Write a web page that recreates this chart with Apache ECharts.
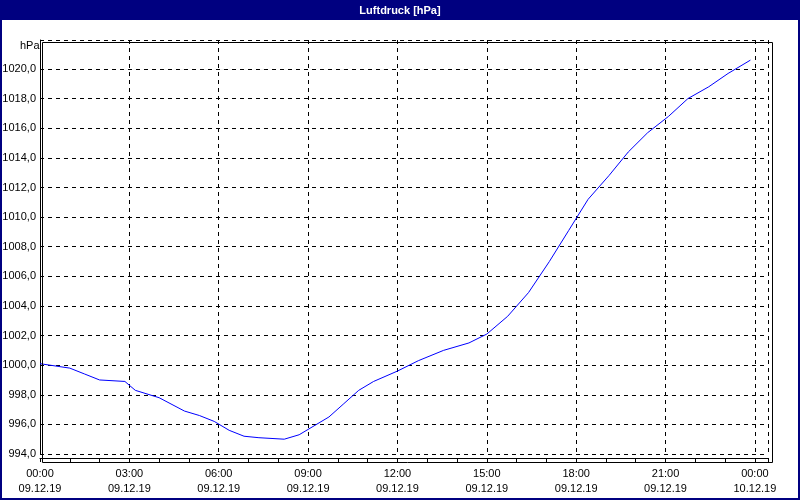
<!DOCTYPE html>
<html>
<head>
<meta charset="utf-8">
<script src="https://cdn.jsdelivr.net/npm/echarts@6/dist/echarts.min.js"></script>
<style>
html, body { margin: 0; padding: 0; background: #fff; }
#main { width: 800px; height: 500px; box-sizing: border-box; border: 2px solid #000080; }
</style>
</head>
<body>
<div id="main"></div>
<script>
// hours since 09.12.19 00:00
const hours = [0, 1.0, 1.5, 2.0, 2.85, 3.2, 4.0, 4.85, 5.35, 5.85, 6.35, 6.85, 7.35, 8.2, 8.7, 9.2, 9.7,
	10.2, 10.7, 11.2, 12.0, 12.7, 13.55, 14.4, 15.0, 15.7, 16.4, 17.1, 17.75, 18.4, 19.1, 19.75,
	20.4, 21.1, 21.75, 22.45, 23.1, 23.85];
const pressure = [1000.1, 999.8, 999.4, 999.0, 998.9, 998.3, 997.8, 996.9, 996.6, 996.2, 995.6, 995.2,
	995.1, 995.0, 995.3, 995.9, 996.5, 997.4, 998.3, 998.9, 999.6, 1000.3, 1001.0, 1001.5, 1002.1,
	1003.3, 1004.9, 1007.0, 1009.1, 1011.2, 1012.8, 1014.4, 1015.7, 1016.8, 1018.0, 1018.8, 1019.7, 1020.6];
const timeLabels = ['00:00', '03:00', '06:00', '09:00', '12:00', '15:00', '18:00', '21:00', '00:00'];
const dateLabels = ['09.12.19', '09.12.19', '09.12.19', '09.12.19', '09.12.19', '09.12.19', '09.12.19', '09.12.19', '10.12.19'];

const chart = echarts.init(document.getElementById('main'));
const font = 'Tahoma, "Liberation Sans", sans-serif';
chart.setOption({
	animation: false,
	backgroundColor: '#fff',
	graphic: [
		{ type: 'rect', left: -2, top: -2, shape: { width: 800, height: 20 }, style: { fill: '#000080' } },
		{ type: 'text', left: 'center', top: 3, style: { text: 'Luftdruck [hPa]', fill: '#fff', font: 'bold 11px ' + font } },
		{ type: 'rect', left: 38, top: 38, shape: { width: 730, height: 420 }, style: { fill: 'none', stroke: '#000', lineWidth: 1 }, z: 10 },
		{ type: 'text', left: 18, top: 38, style: { text: 'hPa', fill: '#000', font: '11px ' + font } }
	],
	grid: { left: 38, right: 30, top: 38, bottom: 44, outerBoundsMode: 'none', containLabel: false },
	xAxis: {
		type: 'value', min: 0, max: 24.44, interval: 3, offset: 4,
		axisLine: { lineStyle: { color: '#000' } },
		axisTick: { length: 4, lineStyle: { color: '#000' } },
		minorTick: { show: true, splitNumber: 3, length: 4, lineStyle: { color: '#000' } },
		splitLine: { show: true, lineStyle: { color: '#000', type: [4, 4] } },
		axisLabel: {
			color: '#000', margin: 8,
			formatter: v => {
				const i = Math.round(v / 3);
				return timeLabels[i] ? '{a|' + timeLabels[i] + '}\n{a|' + dateLabels[i] + '}' : '';
			},
			rich: { a: { fontSize: 11, fontFamily: font, lineHeight: 15, align: 'center', color: '#000' } }
		}
	},
	yAxis: {
		type: 'value', min: 994, max: 1021.96, interval: 2,
		axisLine: { show: true, lineStyle: { color: '#000' } },
		axisTick: { show: false },
		splitLine: { show: true, lineStyle: { color: '#000', type: [4, 4] } },
		axisLabel: {
			color: '#000', fontSize: 11, fontFamily: font, margin: 4,
			formatter: v => v > 1021 ? '' : v.toFixed(1).replace('.', ',')
		}
	},
	series: [{
		type: 'line', symbol: 'none',
		lineStyle: { color: '#0000ff', width: 1 },
		data: hours.map((h, i) => [h, pressure[i]])
	}]
});
</script>
</body>
</html>
